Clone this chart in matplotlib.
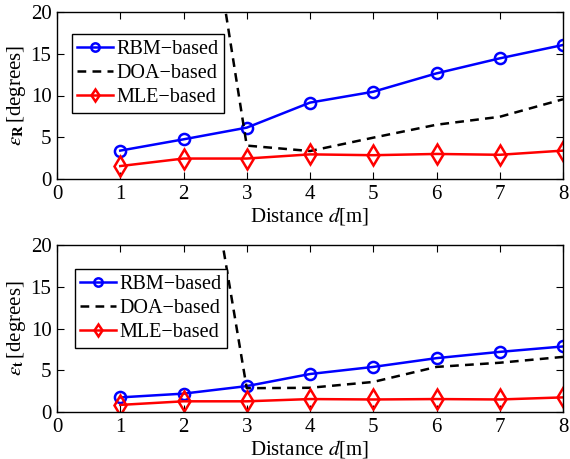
import matplotlib
matplotlib.use("Agg")
import matplotlib.pyplot as plt

plt.rcParams['font.family'] = ['Liberation Serif', 'DejaVu Serif']
plt.rcParams['mathtext.fontset'] = 'stix'

dist = [1, 2, 3, 4, 5, 6, 7, 8]
labels = ["RBM\u2212based", "DOA\u2212based", "MLE\u2212based"]

rbm_R = [3.4, 4.75, 6.15, 9.15, 10.45, 12.65, 14.45, 16.05]
doa_R = [100.0, 52.0, 4.0, 3.35, 4.95, 6.5, 7.45, 9.55]
mle_R = [1.55, 2.45, 2.45, 2.95, 2.85, 3.0, 2.9, 3.4]

rbm_t = [1.75, 2.2, 3.1, 4.55, 5.4, 6.45, 7.2, 7.85]
doa_t = [95.0, 48.0, 2.85, 2.9, 3.6, 5.4, 5.9, 6.6]
mle_t = [0.85, 1.28, 1.28, 1.55, 1.5, 1.55, 1.5, 1.75]

ylabels = [r"$\epsilon_{\mathbf{R}}\,$[degrees]", r"$\epsilon_{\mathbf{t}}\,$[degrees]"]

fig = plt.figure(figsize=(5.7, 4.59), dpi=100)
ax1 = fig.add_axes([57/570, 1-179/459, 506/570, 167/459])
ax2 = fig.add_axes([57/570, 1-412/459, 506/570, 167/459])

FS = 15
for ax, rbm, doa, mle, yl, legx, legy in [(ax1, rbm_R, doa_R, mle_R, ylabels[0], 0.029, 0.868),
                                         (ax2, rbm_t, doa_t, mle_t, ylabels[1], 0.035, 0.856)]:
    ax.plot(dist, rbm, color='#0000ff', lw=1.8, marker='o', markersize=8,
            markerfacecolor='none', markeredgewidth=1.8, label=labels[0])
    ax.plot(dist, doa, color='black', lw=1.8, ls=(0, (3.5, 2.5)), label=labels[1])
    ax.plot(dist, mle, color='#ff0000', lw=1.8, marker='d', markersize=10,
            markerfacecolor='none', markeredgewidth=1.8, label=labels[2])
    ax.set_xlim(0, 8)
    ax.set_ylim(0, 20)
    ax.set_xticks(range(0, 9))
    ax.set_yticks([0, 5, 10, 15, 20])
    ax.tick_params(direction='in', top=True, right=True, labelsize=FS, length=5, pad=4)
    ax.set_xlabel(r"Distance $d$[m]", fontsize=FS, labelpad=1)
    ax.set_ylabel(yl, fontsize=FS, labelpad=2)
    for s in ax.spines.values():
        s.set_linewidth(1.0)
    leg = ax.legend(loc='upper left', bbox_to_anchor=(legx, legy), fontsize=14.5,
                    frameon=True, fancybox=False, edgecolor='black', framealpha=1,
                    handlelength=1.75, handletextpad=0.2, borderpad=0.28, labelspacing=0.25,
                    borderaxespad=0)
    leg.get_frame().set_linewidth(1.0)
    for h in leg.legend_handles:
        h.set_markersize(6)

fig.savefig("out.png", dpi=100)
